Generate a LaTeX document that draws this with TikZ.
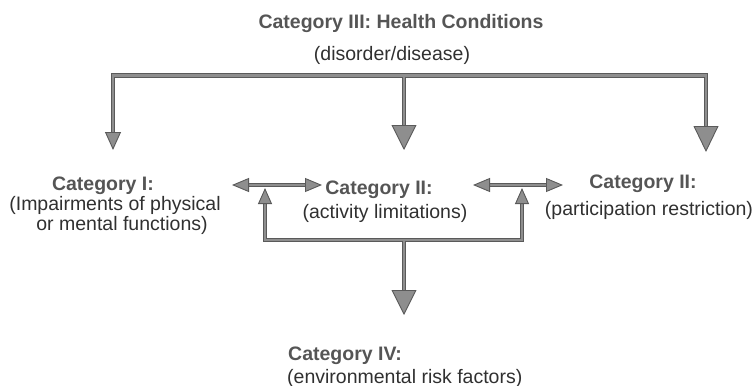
\documentclass[tikz,border=0pt]{standalone}
\usepackage{fontspec}
\setmainfont{Liberation Sans}
\usetikzlibrary{arrows.meta}
\definecolor{pipeedge}{HTML}{5A5A5A}
\definecolor{pipefill}{HTML}{8E8E8E}
\definecolor{boldtext}{HTML}{555555}
\definecolor{plaintext}{HTML}{303030}
\begin{document}
\begin{tikzpicture}[x=1pt,y=-1pt,
  pipe/.style={draw=pipefill, line width=2.4pt, line join=miter,
    preaction={draw=pipeedge, line width=4.8pt, line join=miter}},
  head/.style args={#1/#2}{draw=pipefill, line width=0.1pt,
    -{Triangle[length=#1pt,width=#2pt,fill=pipefill,color=pipeedge,line width=0.9pt]}},
  lbl/.style={inner sep=0pt, font=\fontsize{19.5}{20}\selectfont},
  boldlbl/.style={lbl, text=boldtext, font=\fontsize{19.5}{20}\selectfont\bfseries},
  plainlbl/.style={lbl, text=plaintext}]
\useasboundingbox (0,0) rectangle (756,386);

% texts
\node[boldlbl, anchor=base] (c3a) at (401,28) {Category III: Health Conditions};
\node[plainlbl, anchor=base] (c3b) at (392,60) {(disorder/disease)};
\node[boldlbl, anchor=base] (c1a) at (103,190) {Category I:};
\node[plainlbl, anchor=base] (c1b) at (115,210) {(Impairments of physical};
\node[plainlbl, anchor=base] (c1c) at (122,230) {or mental functions)};
\node[boldlbl, anchor=base] (c2a) at (379,194) {Category II:};
\node[plainlbl, anchor=base] (c2b) at (385,218) {(activity limitations)};
\node[boldlbl, anchor=base] (c5a) at (643,188) {Category II:};
\node[plainlbl, anchor=base] (c5b) at (649,215) {(participation restriction)};
\node[boldlbl, anchor=base west] (c4a) at (288,360) {Category IV:};
\node[plainlbl, anchor=base west] (c4b) at (287,383) {(environmental risk factors)};

% connector points
\coordinate (jL) at (113,75.5);
\coordinate (jM) at (404,75.5);
\coordinate (jR) at (706,75.5);
\coordinate (bL) at (113,133);
\coordinate (tL) at (113,150);
\coordinate (bM) at (404,126);
\coordinate (tM) at (404,150);
\coordinate (bR) at (706,126);
\coordinate (tR) at (706,152);

\coordinate (aL) at (232,185);
\coordinate (aLb) at (248,185);
\coordinate (aR) at (322,185);
\coordinate (aRb) at (306,185);
\coordinate (eL) at (473,185);
\coordinate (eLb) at (489,185);
\coordinate (eR) at (563,185);
\coordinate (eRb) at (547,185);

\coordinate (uL) at (265,188);
\coordinate (uLb) at (265,204);
\coordinate (uR) at (522,188);
\coordinate (uRb) at (522,204);
\coordinate (kL) at (265,240);
\coordinate (kM) at (404,240);
\coordinate (kR) at (522,240);
\coordinate (dMb) at (404,291);
\coordinate (dM) at (404,315);

% shafts
\draw[pipe] (bL) -- (jL) -- (jR) -- (bR)
            (jM) -- (bM)
            (uLb) -- (kL) -- (kR) -- (uRb)
            (kM) -- (dMb)
            (aLb) -- (aRb)
            (eLb) -- (eRb);

% arrow heads
\draw[head=18/16] (bL) -- (tL);
\draw[head=25/25] (bM) -- (tM);
\draw[head=26/25] (bR) -- (tR);
\draw[head=17/14] (aLb) -- (aL);
\draw[head=17/14] (aRb) -- (aR);
\draw[head=17/14] (eLb) -- (eL);
\draw[head=17/14] (eRb) -- (eR);
\draw[head=16/14] (uLb) -- (uL);
\draw[head=16/14] (uRb) -- (uR);
\draw[head=25/25] (dMb) -- (dM);
\end{tikzpicture}
\end{document}
